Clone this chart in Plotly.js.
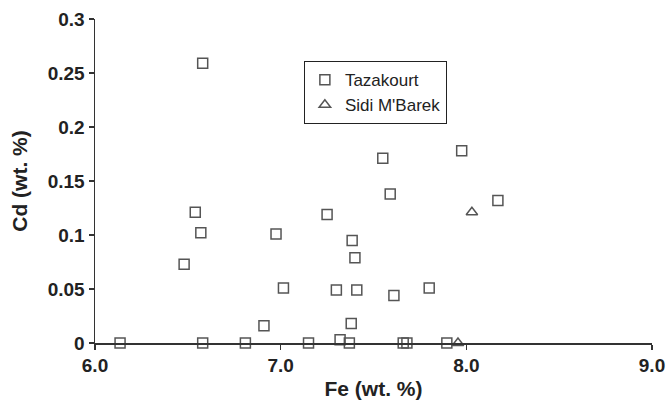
<!DOCTYPE html>
<html>
<head>
<meta charset="utf-8">
<script src="https://cdn.plot.ly/plotly-3.0.1.min.js"></script>
<style>html,body{margin:0;padding:0;background:#fff;}#chart{width:667px;height:410px;}</style>
</head>
<body>
<div id="chart"></div>
<script>
// Tazakourt samples: Fe (wt. %) vs Cd (wt. %)
var tazFe = [6.135, 6.58, 6.81, 7.15, 7.32, 7.37, 7.66, 7.68, 7.895,
             6.58, 6.54, 6.57, 6.48, 6.975, 7.015, 6.91, 7.25, 7.30, 7.41,
             7.385, 7.40, 7.38, 7.61, 7.80, 7.55, 7.59, 7.975, 8.17];
var tazCd = [0, 0, 0, 0, 0.003, 0, 0, 0, 0,
             0.259, 0.121, 0.102, 0.073, 0.101, 0.051, 0.016, 0.119, 0.049, 0.049,
             0.095, 0.079, 0.018, 0.044, 0.051, 0.171, 0.138, 0.178, 0.132];
// Sidi M'Barek samples
var sidiFe = [8.03, 7.955];
var sidiCd = [0.121, 0];

var xTicks = [6, 7, 8, 9];
var xTickText = ["6.0", "7.0", "8.0", "9.0"];
var yTicks = [0, 0.05, 0.1, 0.15, 0.2, 0.25, 0.3];
var yTickText = ["0", "0.05", "0.1", "0.15", "0.2", "0.25", "0.3"];

var markColor = "#555555";
var traces = [
  {x: tazFe, y: tazCd, name: "Tazakourt", type: "scatter", mode: "markers", cliponaxis: false,
   marker: {symbol: "square-open", size: 10, color: markColor, line: {width: 1.5, color: markColor}}},
  {x: sidiFe, y: sidiCd, name: "Sidi M'Barek", type: "scatter", mode: "markers", cliponaxis: false,
   marker: {symbol: "triangle-up-open", size: 10, color: markColor, line: {width: 1.5, color: markColor}}}
];

var axisFont = {family: "Liberation Sans, Arial, sans-serif", size: 19, color: "#222", weight: "bold"};
var titleFont = {family: "Liberation Sans, Arial, sans-serif", size: 21, color: "#222", weight: "bold"};

var layout = {
  width: 667, height: 410,
  margin: {l: 95, r: 15, t: 19, b: 67},
  paper_bgcolor: "#fff", plot_bgcolor: "#fff",
  showlegend: true,
  legend: {x: 0.375, y: 0.87, xanchor: "left", yanchor: "top",
           bgcolor: "#fff", bordercolor: "#222", borderwidth: 1,
           font: {family: "Liberation Sans, Arial, sans-serif", size: 17, color: "#222"},
           itemwidth: 30, tracegroupgap: 0},
  xaxis: {range: [6, 9], tickvals: xTicks, ticktext: xTickText,
          showgrid: false, zeroline: false, showline: true, linecolor: "#333", linewidth: 1.5,
          ticks: "outside", ticklen: 5, tickwidth: 1.5, tickcolor: "#333",
          tickfont: axisFont,
          title: {text: "Fe (wt. %)", font: titleFont, standoff: 6}},
  yaxis: {range: [0, 0.3], tickvals: yTicks, ticktext: yTickText,
          showgrid: false, zeroline: false, showline: true, linecolor: "#333", linewidth: 1.5,
          ticks: "outside", ticklen: 5, tickwidth: 1.5, tickcolor: "#333",
          tickfont: axisFont,
          title: {text: "Cd (wt. %)", font: titleFont, standoff: 14}}
};

Plotly.newPlot("chart", traces, layout, {staticPlot: true, displayModeBar: false});
</script>
</body>
</html>
